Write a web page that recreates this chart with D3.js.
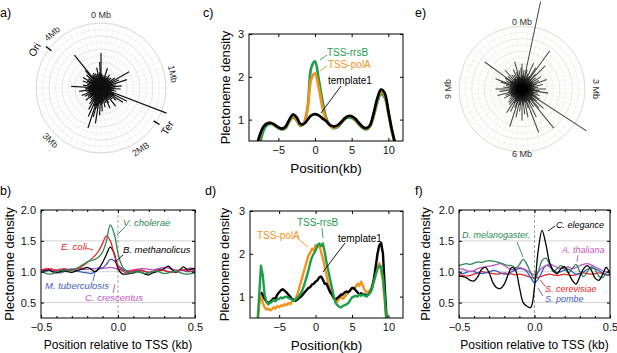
<!DOCTYPE html>
<html>
<head>
<meta charset="utf-8">
<script src="https://cdn.jsdelivr.net/npm/d3@7"></script>
<style>
body { margin: 0; background: #fff; }
svg { font-family: "Liberation Sans", Arial, sans-serif; }
</style>
</head>
<body>
<div id="chart"></div>
<script>
// ---------- data: polar plots (spike length as fraction of plot radius, one per angular bin)
const aTickDeg = [0, 79, 147, 224, 318];
const aTickLabels = ["0 Mb", "1Mb", "2MB", "3Mb", "4Mb"];
const aMarkDeg = [307, 122];
const aMarkLabelDeg = [300, 121];
const aMarkLabels = ["Ori", "Ter"];
const aSpikes = [
  0.54, 0.22, 0.16, 0.2, 0.15, 0.18, 0.32, 0.16, 0.2, 0.15,
  0.18, 0.24, 0.15, 0.2, 0.16, 0.22, 0.15, 0.18, 0.26, 0.16,
  0.5, 0.2, 0.3, 0.16, 0.42, 0.19, 0.24, 0.15, 0.32, 0.18,
  0.22, 0.3, 0.16, 0.2, 0.24, 0.18, 0.15, 1.08, 0.22, 0.45,
  0.24, 0.4, 0.2, 0.3, 0.16, 0.24, 0.19, 0.36, 0.16, 0.22,
  0.19, 0.26, 0.34, 0.18, 0.24, 0.15, 0.3, 0.2, 0.24, 0.36,
  0.26, 0.42, 0.24, 0.55, 0.32, 0.46, 0.65, 0.3, 0.48, 0.24,
  0.38, 0.22, 0.3, 0.18, 0.24, 0.16, 0.22, 0.3, 0.18, 0.24,
  0.2, 0.28, 0.16, 0.32, 0.22, 0.18, 0.24, 0.34, 0.2, 0.24,
  0.24, 0.46, 0.2, 0.28, 0.18, 0.22, 0.15, 0.3, 0.2, 0.24,
  0.32, 0.18, 0.24, 0.2, 0.3, 0.16, 0.36, 0.65, 0.22, 0.24,
  0.18, 0.26, 0.2, 0.24, 0.16, 0.22, 0.32, 0.18, 0.24, 0.4
];

const eTickDeg = [0, 90, 180, 270];
const eTickLabels = ["0 Mb", "3 Mb", "6 Mb", "9 Mb"];
const eSpikes = [
  0.4, 0.22, 0.3, 0.2, 1.42, 0.32, 0.18, 0.26, 0.45, 0.2,
  0.24, 0.4, 0.75, 0.2, 0.32, 0.52, 0.18, 0.28, 0.2, 0.36,
  0.2, 0.3, 0.18, 0.42, 0.24, 0.2, 0.34, 0.17, 0.26, 0.2,
  0.38, 0.2, 0.28, 0.42, 0.18, 0.26, 0.2, 0.3, 0.2, 0.26,
  0.32, 1.22, 0.2, 0.3, 0.46, 0.26, 0.4, 0.8, 0.22, 0.34,
  0.26, 0.5, 0.2, 0.74, 0.32, 0.22, 0.46, 0.2, 0.4, 0.26,
  0.5, 0.2, 0.36, 0.26, 0.46, 0.2, 0.63, 0.32, 0.22, 0.4,
  0.26, 0.45, 0.2, 0.32, 0.18, 0.3, 0.2, 0.26, 0.18, 0.22,
  0.2, 0.32, 0.18, 0.28, 0.2, 0.4, 0.22, 0.18, 0.36, 0.2,
  0.42, 0.2, 0.3, 0.18, 0.26, 0.2, 0.36, 0.45, 0.2, 0.28,
  0.22, 0.32, 0.73, 0.2, 0.3, 0.18, 0.4, 0.2, 0.28, 0.2,
  0.26, 0.18, 0.34, 0.2, 0.28, 0.45, 0.2, 0.3, 0.18, 0.34
];

// ---------- data: panel c (smoothed density, kb)
const cPos = [-8,-7.5,-7,-6.5,-6,-5.5,-5,-4.5,-4,-3.5,-3,-2.5,-2,-1.5,-1,-0.5,0,0.5,1,1.5,2,2.5,3,3.5,4,4.5,5,5.5,6,6.5,7,7.5,8,8.5,9,9.5,10,10.5,11];
const cTemplate = [0.35,0.65,0.84,0.91,0.92,0.88,0.82,0.79,0.84,1.0,1.12,1.05,0.9,0.9,1.0,1.1,1.13,1.1,1.03,0.97,0.88,0.84,0.86,0.93,1.02,1.08,1.08,1.02,0.92,0.83,0.8,0.87,1.15,1.5,1.7,1.62,1.2,0.75,0.4];
const cRrsB = [0.2,0.45,0.75,0.88,0.9,0.86,0.8,0.77,0.8,0.95,1.05,0.98,0.85,0.92,1.3,2.22,2.36,1.95,1.45,1.05,0.87,0.8,0.82,0.9,1.0,1.05,1.04,0.98,0.88,0.8,0.77,0.84,1.08,1.4,1.6,1.52,1.15,0.72,0.38];
const cPolA = [0.3,0.62,0.85,0.92,0.92,0.87,0.81,0.78,0.82,0.97,1.08,1.0,0.87,0.92,1.25,1.95,2.08,1.75,1.3,1.0,0.87,0.82,0.84,0.92,1.02,1.08,1.07,1.0,0.9,0.82,0.79,0.86,1.12,1.45,1.65,1.57,1.18,0.74,0.38];

// ---------- data: panel d (raw density, kb)
const dPos = [
  -8,-7.75,-7.5,-7.25, -7,-6.75,-6.5,-6.25, -6,-5.75,-5.5,-5.25, -5,-4.75,-4.5,-4.25,
  -4,-3.75,-3.5,-3.25, -3,-2.75,-2.5,-2.25, -2,-1.75,-1.5,-1.25, -1,-0.75,-0.5,-0.25,
  0,0.25,0.5,0.75, 1,1.25,1.5,1.75, 2,2.25,2.5,2.75, 3,3.25,3.5,3.75,
  4,4.25,4.5,4.75, 5,5.25,5.5,5.75, 6,6.25,6.5,6.75, 7,7.25,7.5,7.75,
  8,8.25,8.5,8.75, 9,9.25,9.5,9.75, 10
];
const dTemplate = [
  null,null,1.1,1.05, 0.95,0.88,0.85,0.87, 0.92,0.96,0.95,1.05, 1.1,1.15,1.17,1.14,
  1.1,1.05,1.0,0.95, 0.92,0.9,0.93,0.97, 1.0,1.05,1.1,1.15, 1.2,1.22,1.28,1.3,
  1.35,1.38,1.45,1.47, 1.4,1.3,1.3,1.2, 1.1,1.05,0.97,0.93, 0.97,1.0,1.05,1.05,
  1.1,1.12,1.1,1.15, 1.2,1.2,1.15,1.1, 1.05,1.08,1.05,1.05, 1.02,1.05,1.1,1.2,
  1.4,1.7,2.0,2.2, 2.25,2.0,1.2,0.5, 0.2
];
const dRrsB = [
  0.3,1.0,1.72,1.5, 1.05,0.88,0.82,0.85, 0.88,0.92,0.89,0.94, 0.95,0.98,0.96,0.99,
  1.0,0.97,0.95,0.93, 0.9,0.93,0.97,1.02, 1.08,1.18,1.3,1.45, 1.6,1.78,1.92,2.0,
  2.08,2.2,2.24,2.18, 2.24,2.05,1.8,1.6, 1.4,1.2,1.0,0.85, 0.8,0.76,0.75,0.78,
  0.8,0.82,0.85,0.92, 0.98,1.0,1.02,1.0, 1.05,1.02,1.05,1.02, 1.0,1.05,1.1,1.2,
  1.35,1.5,1.65,1.72, 1.7,1.45,1.0,0.4, 0.2
];
const dPolA = [
  0.3,0.8,1.05,0.85, 0.75,0.7,0.72,0.68, 0.7,0.75,0.72,0.78, 0.75,0.8,0.78,0.82,
  0.8,0.85,0.82,0.88, 0.9,0.95,1.05,1.2, 1.35,1.5,1.65,1.8, 1.95,2.02,2.12,2.08,
  2.2,2.15,2.2,2.05, 1.9,1.7,1.5,1.3, 1.15,1.05,0.95,0.9, 0.88,0.95,1.0,0.95,
  1.0,1.05,1.1,1.15, 1.2,1.18,1.22,1.3, 1.25,1.35,1.25,1.15, 1.1,1.12,1.15,1.25,
  1.4,1.55,1.7,1.78, 1.6,1.35,0.9,0.3, 0.2
];

// ---------- data: panels b and f (position relative to TSS, kb)
const tssPos = [-0.5,-0.475,-0.45,-0.425,-0.4,-0.375,-0.35,-0.325,-0.3,-0.275,-0.25,-0.225,-0.2,-0.175,-0.15,-0.125,-0.1,-0.075,-0.05,-0.025,0,0.025,0.05,0.075,0.1,0.125,0.15,0.175,0.2,0.225,0.25,0.275,0.3,0.325,0.35,0.375,0.4,0.425,0.45,0.475,0.5];

const bCholerae = [1.0,0.98,0.96,0.97,1.0,1.02,1.03,1.02,1.03,1.05,1.08,1.12,1.16,1.18,1.2,1.24,1.32,1.5,1.76,1.62,1.3,1.1,1.02,0.98,0.99,1.0,0.99,0.97,0.98,1.0,1.01,0.99,0.97,0.98,1.0,1.01,0.99,0.97,0.96,0.97,0.98];
const bColi = [1.02,1.04,1.05,1.03,1.02,1.03,1.04,1.03,1.02,1.04,1.06,1.1,1.15,1.2,1.26,1.34,1.46,1.58,1.5,1.28,1.1,1.02,0.99,1.0,1.02,1.03,1.02,1.0,0.99,1.0,1.02,1.03,1.02,1.0,0.99,1.0,1.02,1.03,1.02,1.0,1.0];
const bMethanolicus = [1.0,1.02,1.03,1.0,0.98,1.0,1.02,1.0,0.99,1.01,1.03,1.05,1.07,1.04,1.0,1.05,1.15,1.28,1.4,1.3,1.05,0.97,0.96,0.97,0.98,1.0,0.99,0.96,0.95,0.98,1.0,1.02,1.05,1.09,1.04,0.99,1.02,1.08,1.03,1.04,1.05];
const bTuberculosis = [0.99,1.0,1.02,1.01,0.99,0.98,1.0,1.03,1.04,1.02,1.0,0.99,0.98,0.97,1.0,1.04,1.06,1.12,1.2,1.18,1.1,1.05,1.02,1.0,1.0,1.02,1.03,1.01,0.99,1.0,1.03,1.04,1.02,1.0,0.99,1.01,1.03,1.02,1.0,1.01,1.02];
const bCrescentus = [1.03,1.04,1.05,1.04,1.03,1.04,1.05,1.04,1.04,1.05,1.05,1.04,1.04,1.05,1.05,1.06,1.06,1.06,1.07,1.06,1.04,1.03,1.02,1.02,1.03,1.04,1.05,1.05,1.04,1.03,1.04,1.06,1.07,1.06,1.04,1.03,1.02,1.03,1.05,1.06,1.05];

const fElegance = [0.93,0.92,0.9,0.86,0.85,0.92,1.04,1.07,0.98,0.82,0.74,0.73,0.8,0.95,1.07,1.02,0.75,0.5,0.44,0.42,0.75,1.35,1.67,1.45,1.15,1.02,0.97,1.05,1.08,0.98,0.86,0.8,0.92,1.05,1.1,1.03,0.9,0.86,0.95,1.07,0.96];
const fMelanogaster = [1.1,1.12,1.13,1.12,1.14,1.16,1.15,1.17,1.18,1.17,1.16,1.14,1.12,1.1,1.1,1.06,1.12,1.2,1.12,0.98,0.88,1.0,1.18,1.22,1.12,1.0,1.05,1.1,1.05,0.98,1.05,1.12,1.0,0.92,1.0,1.08,1.04,0.93,0.9,0.98,1.02];
const fThaliana = [1.05,1.04,1.02,1.0,1.02,1.05,1.07,1.08,1.09,1.1,1.12,1.13,1.1,1.06,1.03,1.05,1.07,1.05,1.02,0.98,0.95,1.0,1.06,1.1,1.12,1.1,1.07,1.05,1.06,1.08,1.05,1.07,1.1,1.12,1.13,1.11,1.08,1.05,1.02,1.0,0.98];
const fPombe = [0.98,0.97,0.99,1.01,1.0,0.98,0.97,0.98,1.0,1.02,1.01,0.98,0.96,0.97,1.0,1.03,1.05,1.04,1.0,0.9,0.82,0.88,1.0,1.1,1.08,1.02,0.99,1.0,1.03,1.04,1.0,0.96,0.97,1.0,1.04,1.06,1.05,1.02,0.98,0.95,0.96];
const fCerevisiae = [0.95,0.94,0.93,0.94,0.96,0.98,1.0,0.99,0.98,0.97,0.96,0.97,0.98,0.97,0.96,0.95,0.96,0.95,0.93,0.91,0.9,0.91,0.93,0.95,0.96,0.95,0.94,0.95,0.96,0.95,0.94,0.95,0.97,0.98,0.97,0.96,0.97,0.98,0.97,0.95,0.94];

// ---------- colours
const GREEN = "#1e9e4a", ORANGE = "#f5921e", RED = "#e8262a", BLUE = "#3f5cc8", MAGENTA = "#c654c4", DKGREEN = "#2a8a50";

const svg = d3.select("#chart").append("svg")
  .attr("width", 617)
  .attr("height", 353);

// panel letters
[["a)", 0, 17], ["c)", 203, 17], ["e)", 415, 17], ["b)", 0, 195], ["d)", 205, 195], ["f)", 415, 195]]
  .forEach(p => svg.append("text").text(p[0]).attr("x", p[1]).attr("y", p[2]).attr("font-size", 12.5));

const toRad = d3.scaleLinear().domain([0, 360]).range([0, 2 * Math.PI]);

// text rotation that keeps labels tangent and upright
function tangentRot(deg) {
  if (deg > 90 && deg < 270) return deg - 180;
  if (deg >= 270) return deg - 360;
  return deg;
}

/*
 * Polar spike plot
 */
function polarPlot(cx, cy, R, spikes, tickDeg, tickLabels, opt) {
  const g = svg.append("g").attr("transform", "translate(" + cx + "," + cy + ")");
  const r = d3.scaleLinear().domain([0, 1]).range([0, R]);
  const bin = d3.scaleLinear().domain([0, spikes.length]).range([0, 2 * Math.PI]);

  // grid
  d3.range(1, 11).forEach(k => {
    g.append("circle").attr("r", r(k / 10)).attr("fill", "none")
      .attr("stroke", k % 2 === 0 ? opt.gridMajor : opt.gridMinor).attr("stroke-width", k === 10 ? 0.9 : 0.6);
  });
  d3.range(0, 360, 6).forEach(a => {
    const p0 = d3.pointRadial(toRad(a), r(0.2));
    const p1 = d3.pointRadial(toRad(a), r(1));
    g.append("line").attr("x1", p0[0]).attr("y1", p0[1]).attr("x2", p1[0]).attr("y2", p1[1])
      .attr("stroke", opt.gridMinor).attr("stroke-width", 0.5);
  });

  // spikes
  g.selectAll("line.spike").data(spikes).join("line")
    .attr("class", "spike")
    .attr("x1", 0).attr("y1", 0)
    .attr("x2", (d, i) => d3.pointRadial(bin(i), r(d))[0])
    .attr("y2", (d, i) => d3.pointRadial(bin(i), r(d))[1])
    .attr("stroke", opt.spike)
    .attr("stroke-opacity", opt.spikeOpacity || 1)
    .attr("stroke-width", opt.spikeWidth);

  // labels
  tickDeg.forEach((deg, i) => {
    const off = Array.isArray(opt.labelOff) ? opt.labelOff[i] : opt.labelOff;
    const p = d3.pointRadial(toRad(deg), R + off);
    g.append("text").text(tickLabels[i])
      .attr("transform", "translate(" + p[0] + "," + p[1] + ") rotate(" + tangentRot(deg) + ")")
      .attr("text-anchor", "middle").attr("dominant-baseline", "central")
      .attr("font-size", 9).attr("fill", "#333");
  });
  return { g, r };
}

const pa = polarPlot(101, 88, 65, aSpikes, aTickDeg, aTickLabels,
  { gridMajor: "#cfcfcf", gridMinor: "#e6e6e6", spike: "#111", spikeWidth: 1.2, labelOff: 8 });

// Ori / Ter markers
aMarkDeg.forEach((deg, i) => {
  const p0 = d3.pointRadial(toRad(deg), 62), p1 = d3.pointRadial(toRad(deg), 69);
  pa.g.append("line").attr("x1", p0[0]).attr("y1", p0[1]).attr("x2", p1[0]).attr("y2", p1[1])
    .attr("stroke", "#000").attr("stroke-width", 1.3);
  const ld = aMarkLabelDeg[i];
  const pt = d3.pointRadial(toRad(ld), 77);
  pa.g.append("text").text(aMarkLabels[i])
    .attr("transform", "translate(" + pt[0] + "," + pt[1] + ") rotate(" + tangentRot(ld) + ")")
    .attr("text-anchor", "middle").attr("dominant-baseline", "central")
    .attr("font-size", 10.5).attr("fill", "#111");
});

polarPlot(522, 89, 63, eSpikes, eTickDeg, eTickLabels,
  { gridMajor: "#d8d5cc", gridMinor: "#ebe9e3", spike: "#000", spikeOpacity: 0.72, spikeWidth: 1.05, labelOff: [4, 11, 2, 11] });

/*
 * Cartesian line panel
 */
function linePanel(o) {
  const x = d3.scaleLinear().domain(o.xd).range([o.left, o.right]);
  const y = d3.scaleLinear().domain(o.yd).range([o.bottom, o.top]);
  const g = svg.append("g");
  const id = "clip" + o.name;

  g.append("clipPath").attr("id", id).append("rect")
    .attr("x", o.left).attr("y", o.top).attr("width", o.right - o.left).attr("height", o.bottom - o.top);

  // horizontal grid + zero line
  (o.grid || []).forEach(v => {
    g.append("line").attr("x1", o.left).attr("x2", o.right).attr("y1", y(v)).attr("y2", y(v))
      .attr("stroke", "#d4d4d4").attr("stroke-width", 1);
  });
  if (o.zeroLine) {
    g.append("line").attr("x1", x(0)).attr("x2", x(0)).attr("y1", o.top).attr("y2", o.bottom)
      .attr("stroke", "#8a8a8a").attr("stroke-width", 0.8).attr("stroke-dasharray", "3,2");
  }

  const line = d3.line()
    .defined(d => d[1] !== null)
    .x(d => x(d[0])).y(d => y(d[1]))
    .curve(o.curve);

  const lg = g.append("g").attr("clip-path", "url(#" + id + ")");
  o.series.forEach(s => {
    lg.append("path")
      .datum(o.pos.map((p, i) => [p, s.values[i]]))
      .attr("d", line)
      .attr("fill", "none")
      .attr("stroke", s.color)
      .attr("stroke-width", o.width)
      .attr("stroke-linejoin", "round");
  });

  // axes with inward ticks
  const fmtAx = sel => {
    sel.select(".domain").remove();
    sel.selectAll("text").attr("font-size", 11).attr("font-family", "Liberation Sans, Arial, sans-serif").attr("fill", "#111");
    sel.selectAll("line").attr("stroke", "#000");
  };
  g.append("g").attr("transform", "translate(0," + o.bottom + ")")
    .call(d3.axisBottom(x).tickValues(o.xt).tickSize(-3).tickPadding(5).tickFormat(o.xf)).call(fmtAx);
  g.append("g").attr("transform", "translate(0," + o.top + ")")
    .call(d3.axisTop(x).tickValues(o.xt).tickSize(-3).tickFormat("")).call(fmtAx);
  g.append("g").attr("transform", "translate(" + o.left + ",0)")
    .call(d3.axisLeft(y).tickValues(o.yt).tickSize(-3).tickPadding(5).tickFormat(o.yf)).call(fmtAx);
  g.append("g").attr("transform", "translate(" + o.right + ",0)")
    .call(d3.axisRight(y).tickValues(o.yt).tickSize(-3).tickFormat("")).call(fmtAx);
  if (o.xMinor) {
    g.append("g").attr("transform", "translate(0," + o.bottom + ")")
      .call(d3.axisBottom(x).tickValues(o.xMinor).tickSize(-2).tickFormat("")).call(fmtAx);
    g.append("g").attr("transform", "translate(0," + o.top + ")")
      .call(d3.axisTop(x).tickValues(o.xMinor).tickSize(-2).tickFormat("")).call(fmtAx);
  }

  g.append("rect").attr("x", o.left).attr("y", o.top)
    .attr("width", o.right - o.left).attr("height", o.bottom - o.top)
    .attr("fill", "none").attr("stroke", "#000").attr("stroke-width", 1);

  // axis titles
  g.append("text").text(o.xTitle)
    .attr("x", (o.left + o.right) / 2).attr("y", o.bottom + o.xTitleDy)
    .attr("text-anchor", "middle").attr("font-size", o.xTitleSize);
  g.append("text").text("Plectoneme density")
    .attr("transform", "translate(" + o.yTitleX + "," + (o.top + o.bottom) / 2 + ") rotate(-90)")
    .attr("text-anchor", "middle").attr("font-size", 13);

  // annotations
  (o.notes || []).forEach(n => {
    g.append("text").text(n.text).attr("x", n.x).attr("y", n.y)
      .attr("fill", n.color).attr("font-size", o.noteSize)
      .attr("font-style", o.italic ? "italic" : "normal");
    if (n.lead) {
      g.append("line").attr("x1", n.lead[0]).attr("y1", n.lead[1]).attr("x2", n.lead[2]).attr("y2", n.lead[3])
        .attr("stroke", n.color).attr("stroke-width", 0.9);
    }
  });
  return { x, y, g };
}

const kbTicks = [-5, 0, 5, 10];
const kbFmt = d3.format("d");
const tssTicks = [-0.5, 0, 0.5];
const tssMinor = [-0.4, -0.3, -0.2, -0.1, 0.1, 0.2, 0.3, 0.4];
const tssFmt = d3.format(".1f");

// panel c
linePanel({
  name: "c", left: 249, right: 403, top: 34, bottom: 141,
  xd: [-9, 12], yd: [0.5, 3], xt: kbTicks, yt: [1, 2, 3], xf: kbFmt, yf: kbFmt,
  pos: cPos, curve: d3.curveCatmullRom.alpha(0.5), width: 2.7,
  series: [{ values: cRrsB, color: GREEN }, { values: cPolA, color: ORANGE }, { values: cTemplate, color: "#000" }],
  xTitle: "Position(kb)", xTitleDy: 32, xTitleSize: 13.5, yTitleX: 230,
  noteSize: 10, italic: false,
  notes: [
    { text: "TSS-rrsB", x: 327, y: 56, color: GREEN, lead: [327, 55, 320, 60] },
    { text: "TSS-polA", x: 328, y: 68, color: ORANGE, lead: [327, 66, 320, 71] },
    { text: "template1", x: 328, y: 84, color: "#000", lead: [341, 86, 321, 113] }
  ]
});

// panel d
linePanel({
  name: "d", left: 250, right: 403, top: 211, bottom: 318,
  xd: [-9, 12], yd: [0.5, 3], xt: kbTicks, yt: [1, 2, 3], xf: kbFmt, yf: kbFmt,
  pos: dPos, curve: d3.curveLinear, width: 2.4,
  series: [{ values: dPolA, color: ORANGE }, { values: dTemplate, color: "#000" }, { values: dRrsB, color: GREEN }],
  xTitle: "Position(kb)", xTitleDy: 32, xTitleSize: 13.5, yTitleX: 229,
  noteSize: 10, italic: false,
  notes: [
    { text: "TSS-rrsB", x: 297, y: 226, color: GREEN, lead: [322, 228, 323, 238] },
    { text: "TSS-polA", x: 257, y: 239, color: ORANGE, lead: [297, 238, 308, 247] },
    { text: "template1", x: 338, y: 242, color: "#000", lead: [345, 243, 323, 272] }
  ]
});

// panel b
linePanel({
  name: "b", left: 41, right: 195, top: 210, bottom: 318,
  xd: [-0.5, 0.5], yd: [0.25, 2], xt: tssTicks, xMinor: tssMinor, yt: [0.5, 1, 1.5, 2], xf: tssFmt, yf: tssFmt,
  grid: [0.5, 1, 1.5], zeroLine: true,
  pos: tssPos, curve: d3.curveCatmullRom.alpha(0.5), width: 1.3,
  series: [
    { values: bCrescentus, color: MAGENTA }, { values: bTuberculosis, color: BLUE },
    { values: bMethanolicus, color: "#000" }, { values: bColi, color: RED }, { values: bCholerae, color: DKGREEN }
  ],
  xTitle: "Position relative to TSS (kb)", xTitleDy: 31, xTitleSize: 12, yTitleX: 14,
  noteSize: 9.5, italic: true,
  notes: [
    { text: "V. cholerae", x: 123, y: 226, color: DKGREEN, lead: [125, 227, 117, 235] },
    { text: "E. coli", x: 61, y: 250, color: RED, lead: [86, 248, 93, 250] },
    { text: "B. methanolicus", x: 123, y: 253, color: "#000", lead: [123, 255, 115, 262] },
    { text: "M. tuberculosis", x: 45, y: 289, color: BLUE, lead: [93, 281, 95, 272] },
    { text: "C. crescentus", x: 85, y: 301, color: MAGENTA, lead: [113, 293, 115, 284] }
  ]
});

// panel f
linePanel({
  name: "f", left: 459, right: 610, top: 210, bottom: 318,
  xd: [-0.5, 0.5], yd: [0.25, 2], xt: tssTicks, xMinor: tssMinor, yt: [0.5, 1, 1.5, 2], xf: tssFmt, yf: tssFmt,
  grid: [0.5, 1, 1.5], zeroLine: true,
  pos: tssPos, curve: d3.curveCatmullRom.alpha(0.5), width: 1.3,
  series: [
    { values: fCerevisiae, color: RED }, { values: fPombe, color: BLUE }, { values: fThaliana, color: MAGENTA },
    { values: fMelanogaster, color: DKGREEN }, { values: fElegance, color: "#000" }
  ],
  xTitle: "Position relative to TSS (kb)", xTitleDy: 31, xTitleSize: 12, yTitleX: 430,
  noteSize: 9, italic: true,
  notes: [
    { text: "C. elegance", x: 556, y: 228, color: "#000", lead: [555, 226, 548, 231] },
    { text: "D. melanogaster.", x: 462, y: 238, color: DKGREEN, lead: [517, 242, 523, 257] },
    { text: "A. thaliana", x: 562, y: 253, color: MAGENTA, lead: [578, 255, 577, 262] },
    { text: "S. cerevisiae", x: 545, y: 292, color: RED, lead: [545, 286, 540, 280] },
    { text: "S. pombe", x: 545, y: 302, color: BLUE, lead: [543, 296, 538, 288] }
  ]
});
</script>
</body>
</html>
